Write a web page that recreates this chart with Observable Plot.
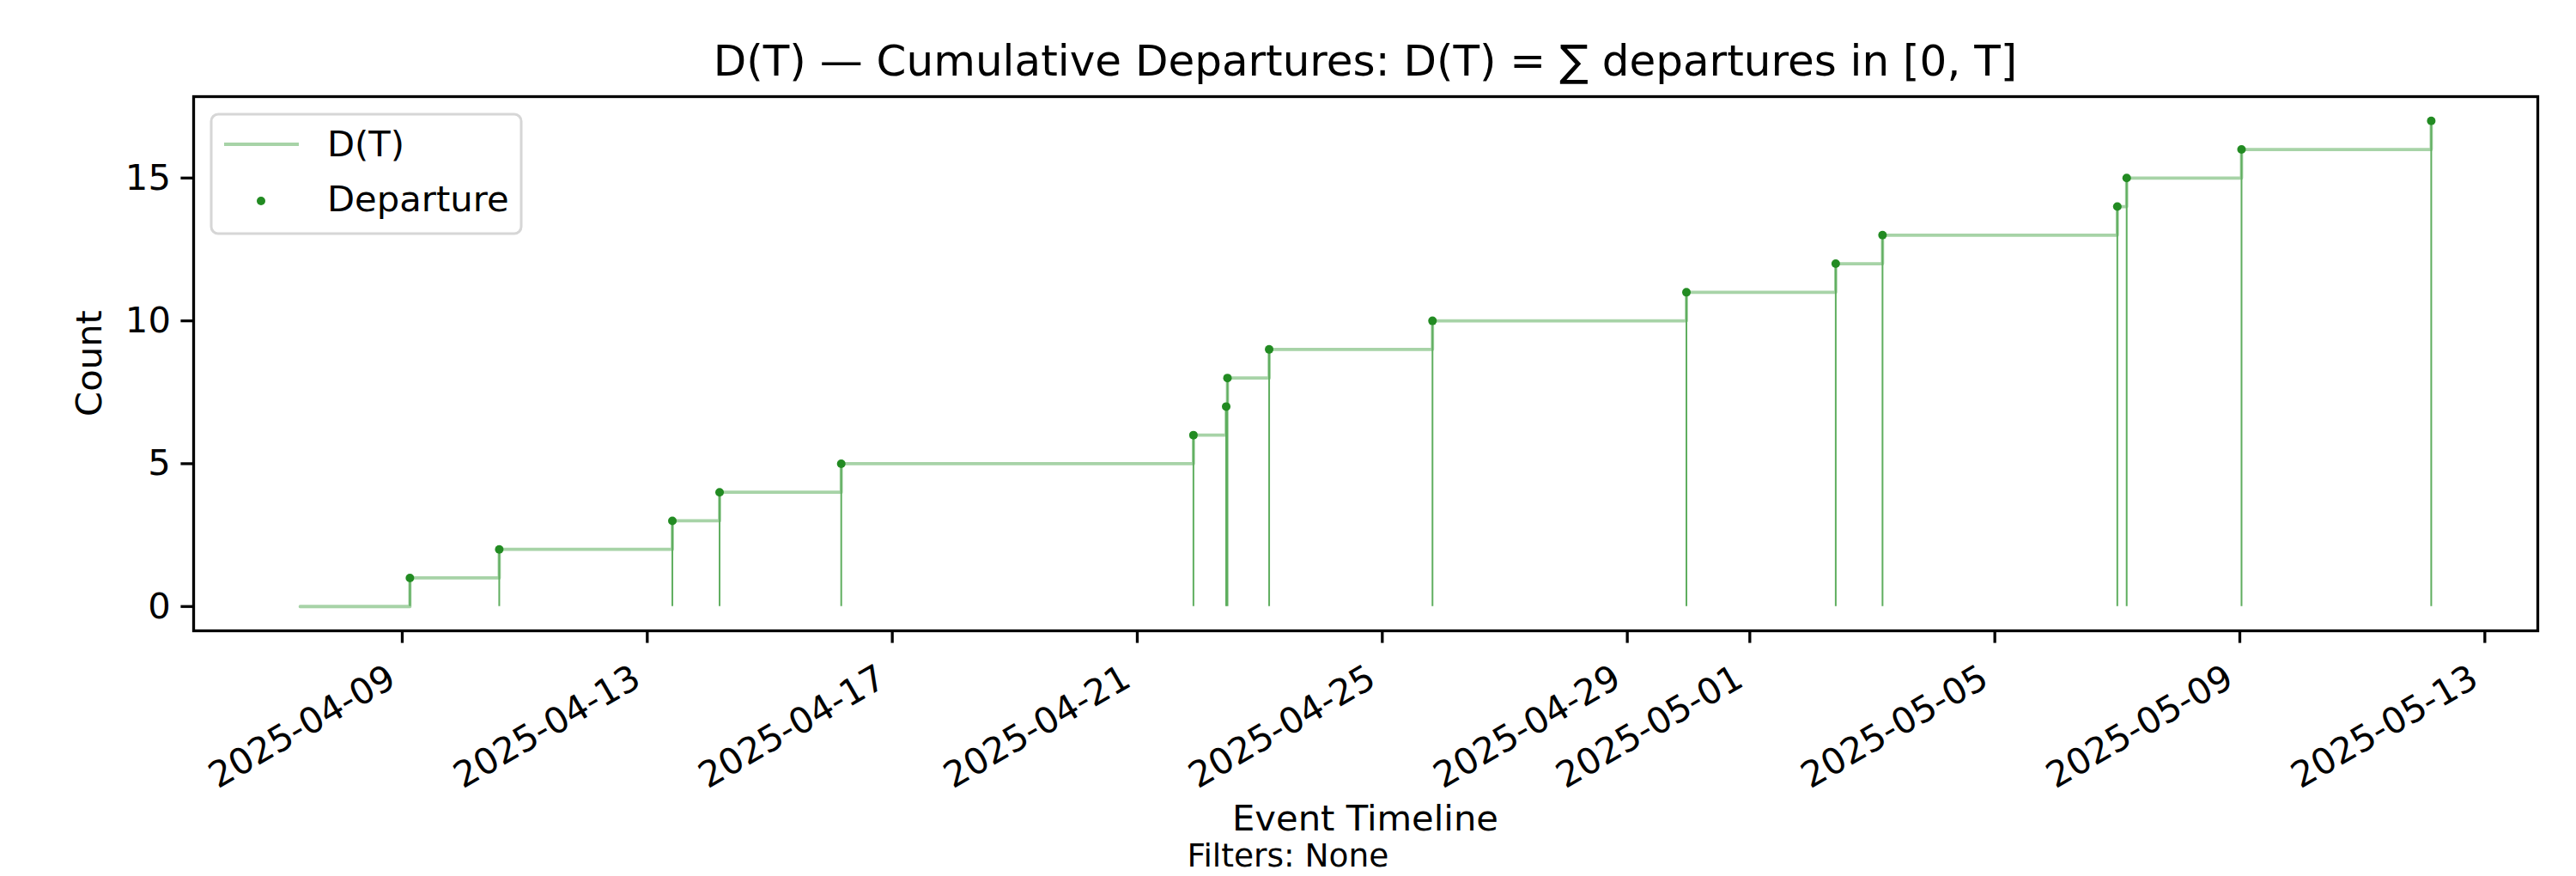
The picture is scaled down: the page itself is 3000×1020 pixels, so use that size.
<!DOCTYPE html>
<html>
<head>
<meta charset="utf-8">
<script src="https://cdn.jsdelivr.net/npm/d3@7"></script>
<script src="https://cdn.jsdelivr.net/npm/@observablehq/plot@0.6"></script>
<style>
  html, body { margin: 0; padding: 0; background: #fff; }
  #chart { width: 3000px; height: 1020px; }
</style>
</head>
<body>
<div id="chart"></div>
<script>
// ---- data ----
const startTime = "2025-04-07T08:00Z";
const departureTimes = [
  "2025-04-09T03:00Z", "2025-04-10T14:00Z", "2025-04-13T09:50Z", "2025-04-14T04:20Z",
  "2025-04-16T04:00Z", "2025-04-21T22:00Z", "2025-04-22T10:50Z", "2025-04-22T11:20Z",
  "2025-04-23T03:40Z", "2025-04-25T19:40Z", "2025-04-29T23:10Z", "2025-05-02T09:40Z",
  "2025-05-03T04:00Z", "2025-05-07T00:00Z", "2025-05-07T03:40Z", "2025-05-09T00:40Z",
  "2025-05-12T03:00Z"
];
const departureCounts = [1, 2, 3, 4, 5, 6, 7, 8, 9, 10, 11, 12, 13, 14, 15, 16, 17];
const xTickLabels = [
  "2025-04-09", "2025-04-13", "2025-04-17", "2025-04-21", "2025-04-25",
  "2025-04-29", "2025-05-01", "2025-05-05", "2025-05-09", "2025-05-13"
];
const yTicks = [0, 5, 10, 15];
const titleText = "D(T) \u2014 Cumulative Departures: D(T) = \u2211 departures in [0, T]";
const xLabel = "Event Timeline";
const yLabel = "Count";
const captionText = "Filters: None";
const legendLabels = ["D(T)", "Departure"];

// ---- derived tables ----
const departures = departureTimes.map((t, i) => ({ t: new Date(t), n: departureCounts[i] }));
const stepData = [{ t: new Date(startTime), n: 0 }, ...departures];
const tickDate = s => new Date(s + "T00:00Z");
const xTicks = xTickLabels.map(tickDate);

const t0 = +stepData[0].t, t1 = +stepData[stepData.length - 1].t;
const pad = 0.05 * (t1 - t0);
const xDomain = [new Date(t0 - pad), new Date(t1 + pad)];
const yMax = d3.max(departureCounts);
const yDomain = [-0.05 * yMax, yMax * 1.05];

const W = 3000, H = 1020;
const mL = 225, mR = 45, mT = 112, mB = 286;
const FS = 41.7;
const lw = 3.3;

const stepColor = "#a7d3a7";
const vlineColor = "#5fae5f";
const dotColor = "#228b22";

const plot = Plot.plot({
  width: W, height: H,
  marginLeft: mL, marginRight: mR, marginTop: mT, marginBottom: mB,
  style: { fontFamily: "DejaVu Sans", fontSize: FS + "px", color: "black", background: "white" },
  x: { type: "utc", domain: xDomain },
  y: { domain: yDomain },
  marks: [
    Plot.line(stepData, { x: "t", y: "n", curve: "step-after", stroke: stepColor, strokeWidth: 3.8 }),
    Plot.ruleX(departures, { x: "t", y1: 0, y2: "n", stroke: vlineColor, strokeWidth: 2 }),
    Plot.dot(departures, { x: "t", y: "n", r: 5, fill: dotColor, stroke: "none" }),
    Plot.axisY({ ticks: yTicks, tickSize: 14.6, tickPadding: 12, strokeWidth: lw, label: null, fontSize: FS }),
    Plot.axisX({ ticks: xTicks, tickFormat: () => "", tickSize: 14.6, strokeWidth: lw, label: null }),
    Plot.text(xTickLabels, {
      x: tickDate, text: d => d, frameAnchor: "bottom",
      dx: -5, dy: 63, rotate: -30, textAnchor: "end", lineAnchor: "bottom",
      fontSize: FS, fill: "black"
    }),
    Plot.frame({ stroke: "black", strokeWidth: lw })
  ]
});

document.getElementById("chart").appendChild(plot);

// ---- annotations: title, axis labels, caption, legend ----
const svg = d3.select(plot);
const g = svg.append("g").attr("font-family", "DejaVu Sans").attr("fill", "black");
const cx = (mL + (W - mR)) / 2;
g.append("text").attr("x", cx).attr("y", 88).attr("text-anchor", "middle").attr("font-size", 50).text(titleText);
g.append("text").attr("x", cx).attr("y", 967).attr("text-anchor", "middle").attr("font-size", FS).text(xLabel);
g.append("text").attr("x", W / 2).attr("y", 1009).attr("text-anchor", "middle").attr("font-size", 37.5).text(captionText);
g.append("text").attr("transform", `translate(118,${(mT + H - mB) / 2}) rotate(-90)`).attr("text-anchor", "middle").attr("font-size", FS).text(yLabel);

const lg = svg.append("g").attr("font-family", "DejaVu Sans");
lg.append("rect").attr("x", 246).attr("y", 133).attr("width", 361).attr("height", 139).attr("rx", 8)
  .attr("fill", "white").attr("fill-opacity", 0.8).attr("stroke", "#d6d6d6").attr("stroke-width", 3);
lg.append("line").attr("x1", 261).attr("x2", 348).attr("y1", 168).attr("y2", 168).attr("stroke", stepColor).attr("stroke-width", 3.8);
lg.append("circle").attr("cx", 304).attr("cy", 234).attr("r", 5).attr("fill", dotColor);
lg.append("text").attr("x", 381).attr("y", 182).attr("text-anchor", "start").attr("fill", "black").attr("font-size", FS).text(legendLabels[0]);
lg.append("text").attr("x", 381).attr("y", 246).attr("text-anchor", "start").attr("fill", "black").attr("font-size", FS).text(legendLabels[1]);
</script>
</body>
</html>
